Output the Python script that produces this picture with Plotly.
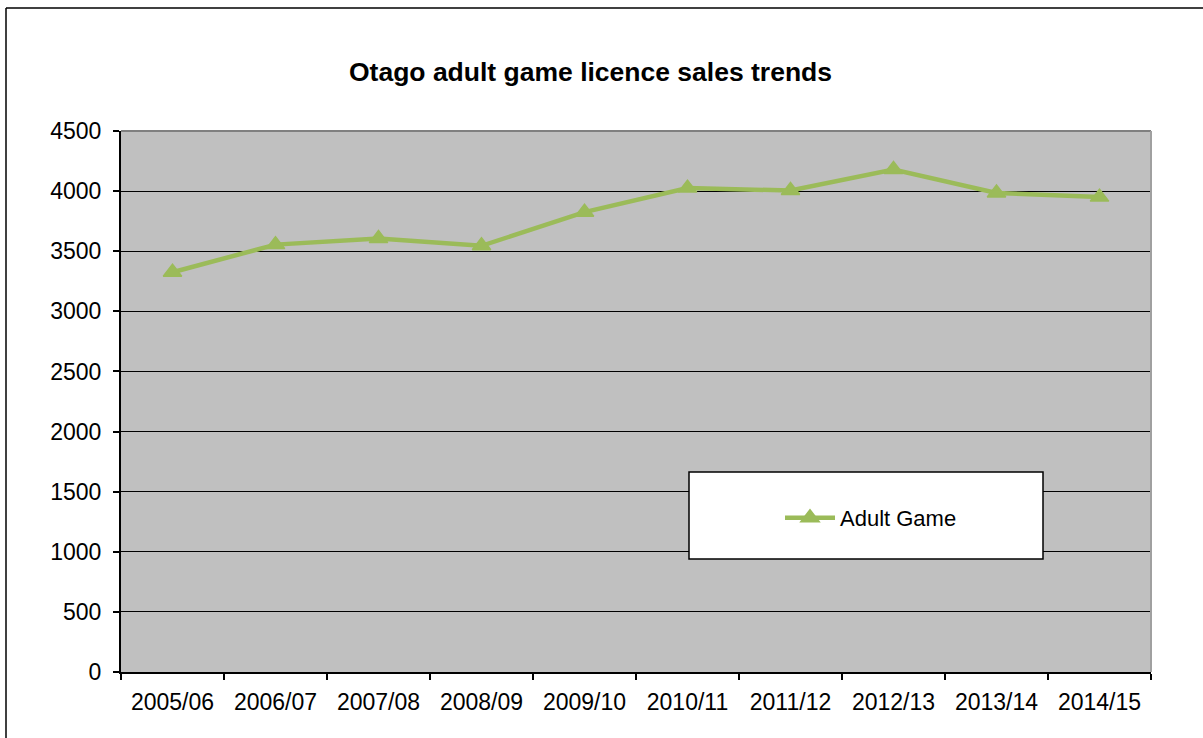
import plotly.graph_objects as go

# Licence years and adult game licence sales
seasons = ["2005/06", "2006/07", "2007/08", "2008/09", "2009/10",
           "2010/11", "2011/12", "2012/13", "2013/14", "2014/15"]
adult_game = [3325, 3555, 3605, 3545, 3825, 4025, 4005, 4180, 3985, 3950]
y_ticks = [0, 500, 1000, 1500, 2000, 2500, 3000, 3500, 4000, 4500]

W, H = 1203, 738
ML, MR, MT, MB = 121, 52, 131, 66
PW, PH = W - ML - MR, H - MT - MB


def px_x(p):
    return (p - ML) / PW


def px_y(p):
    return (H - MB - p) / PH


FONT = "Liberation Sans, Arial, sans-serif"
GREEN = "#9BBB59"

fig = go.Figure()
fig.add_trace(go.Scatter(
    x=seasons, y=adult_game, name="Adult Game", mode="lines+markers",
    line=dict(color=GREEN, width=4.5),
    marker=dict(symbol="triangle-up", size=16, color=GREEN,
                line=dict(color=GREEN, width=1.5)),
))

shapes = [
    # legend box
    dict(type="rect", xref="paper", yref="paper",
         x0=px_x(689), x1=px_x(1043), y0=px_y(559), y1=px_y(472),
         fillcolor="white", line=dict(color="black", width=1.5), layer="above"),
    # plot-area border on top and right
    dict(type="line", xref="paper", yref="paper", x0=0, x1=1, y0=1, y1=1,
         line=dict(color="#808080", width=2), layer="below"),
    dict(type="line", xref="paper", yref="paper", x0=1, x1=1, y0=0, y1=1,
         line=dict(color="#A0A0A0", width=2), layer="above"),
    # chart frame
    dict(type="line", xref="paper", yref="paper",
         x0=px_x(6), x1=px_x(6), y0=px_y(8), y1=px_y(745),
         line=dict(color="black", width=1.5)),
    dict(type="line", xref="paper", yref="paper",
         x0=px_x(6), x1=px_x(1210), y0=px_y(8), y1=px_y(8),
         line=dict(color="black", width=1.5)),
]

fig.update_layout(
    width=W, height=H,
    margin=dict(l=ML, r=MR, t=MT, b=MB),
    paper_bgcolor="white", plot_bgcolor="#C0C0C0",
    font=dict(family=FONT, size=19, color="black"),
    title=dict(text="<b>Otago adult game licence sales trends</b>",
               font=dict(family=FONT, size=26.5, color="black"),
               x=px_x(590.5), xref="paper", xanchor="center",
               y=1 - 72 / H, yref="container", yanchor="middle"),
    showlegend=True,
    legend=dict(x=px_x(871), y=px_y(518), xanchor="center", yanchor="middle",
                bgcolor="rgba(0,0,0,0)", borderwidth=0, itemwidth=50,
                font=dict(family=FONT, size=22, color="black")),
    shapes=shapes,
    xaxis=dict(type="category", tickson="boundaries", ticks="outside",
               ticklen=6, tickcolor="black", tickwidth=1.5,
               showline=True, linecolor="black", linewidth=2,
               showgrid=False, range=[-0.5, 9.5], fixedrange=True,
               ticklabelstandoff=8,
               tickfont=dict(family=FONT, size=23, color="black")),
    yaxis=dict(range=[0, 4500], tickvals=y_ticks, ticks="outside",
               ticklen=6, tickcolor="black", tickwidth=1.5,
               showline=True, linecolor="black", linewidth=2,
               showgrid=True, gridcolor="black", gridwidth=1.2,
               zeroline=False, fixedrange=True, ticklabelstandoff=7,
               tickfont=dict(family=FONT, size=23, color="black")),
)

fig.write_html("out.html")
